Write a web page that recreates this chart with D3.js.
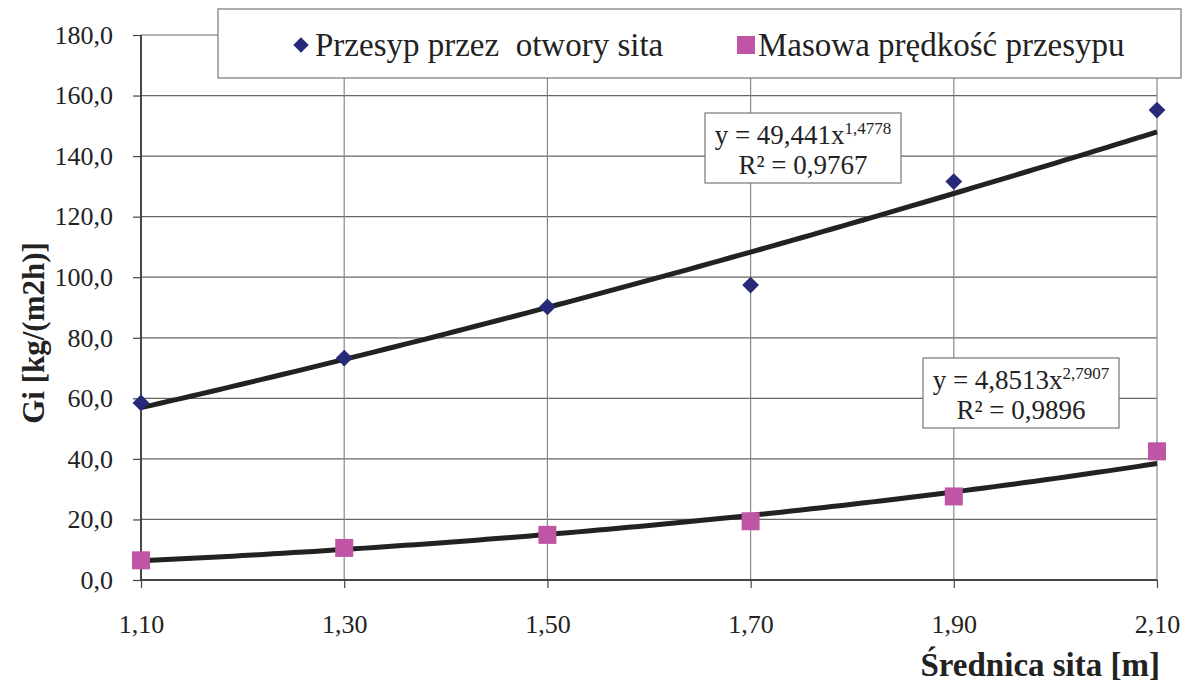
<!DOCTYPE html>
<html>
<head>
<meta charset="utf-8">
<script src="https://cdn.jsdelivr.net/npm/d3@7"></script>
<style>
  body { margin: 0; background: #fff; }
</style>
</head>
<body>
<svg id="chart" width="1191" height="684"></svg>
<script>
// data
var diameters = [1.10, 1.30, 1.50, 1.70, 1.90, 2.10];
var przesyp = [58.5, 73.3, 90.2, 97.4, 131.6, 155.2];
var masowa = [6.5, 10.6, 14.9, 19.4, 27.6, 42.5];
var yTicks = [0, 20, 40, 60, 80, 100, 120, 140, 160, 180];
var seriesNames = ['Przesyp przez  otwory sita', 'Masowa prędkość przesypu'];
// power trendline coefficients as printed in the chart
var fitA = [49.441, 4.8513];
var fitB = [1.4778, 2.7907];
var fitEq = [['y = 49,441x', '1,4778', 'R² = 0,9767'], ['y = 4,8513x', '2,7907', 'R² = 0,9896']];

var svg = d3.select('#chart');
var fmt1 = function(d) { return d.toFixed(1).replace('.', ','); };
var fmt2 = function(d) { return d.toFixed(2).replace('.', ','); };

var x = d3.scaleLinear().domain([1.10, 2.10]).range([141, 1157]);
var y = d3.scaleLinear().domain([0, 180]).range([580, 35]);

// grid
svg.append('g').selectAll('line.hgrid').data(yTicks).enter().append('line')
  .attr('x1', 141).attr('x2', 1157)
  .attr('y1', function(d) { return y(d); }).attr('y2', function(d) { return y(d); })
  .attr('stroke', '#666').attr('stroke-width', 1.2);
svg.append('g').selectAll('line.vgrid').data(diameters).enter().append('line')
  .attr('x1', function(d) { return x(d); }).attr('x2', function(d) { return x(d); })
  .attr('y1', 35).attr('y2', 580)
  .attr('stroke', '#888').attr('stroke-width', 1.2);

// axes
var yAxis = svg.append('g').attr('transform', 'translate(141,0)')
  .call(d3.axisLeft(y).tickValues(yTicks).tickFormat(fmt1).tickSize(8).tickPadding(20));
var xAxis = svg.append('g').attr('transform', 'translate(0,580)')
  .call(d3.axisBottom(x).tickValues(diameters).tickFormat(fmt2).tickSize(8).tickPadding(27));
[yAxis, xAxis].forEach(function(a) {
  a.select('.domain').attr('stroke', '#222').attr('stroke-width', 1.5);
  a.selectAll('.tick line').attr('stroke', '#444').attr('stroke-width', 1.2);
  a.selectAll('.tick text').style('font-size', '26px');
});
xAxis.select('.domain').attr('d', 'M141,0H1157');
yAxis.select('.domain').attr('d', 'M0,35V580');

// axis titles
svg.append('text').attr('x', 1160).attr('y', 676).attr('text-anchor', 'end')
  .style('font-size', '33px').style('font-weight', 'bold').text('Średnica sita [m]');
svg.append('text').attr('transform', 'translate(44,333) rotate(-90)').attr('text-anchor', 'middle')
  .style('font-size', '31px').style('font-weight', 'bold').text('Gi [kg/(m2h)]');

// trendlines
var samples = d3.range(0, 101).map(function(i) { return 1.10 + i * 0.01; });
[0, 1].forEach(function(k) {
  var line = d3.line()
    .x(function(d) { return x(d); })
    .y(function(d) { return y(fitA[k] * Math.pow(d, fitB[k])); });
  svg.append('path').datum(samples).attr('d', line)
    .attr('fill', 'none').attr('stroke', '#222').attr('stroke-width', 5);
});

// markers
var diamond = d3.symbol().type(d3.symbolDiamond2).size(180);
svg.append('g').selectAll('path.dia').data(przesyp).enter().append('path')
  .attr('class', 'dia')
  .attr('d', diamond)
  .attr('transform', function(d, i) { return 'translate(' + x(diameters[i]) + ',' + y(d) + ')'; })
  .attr('fill', '#262a78');
svg.append('g').selectAll('rect.sq').data(masowa).enter().append('rect')
  .attr('class', 'sq')
  .attr('x', function(d, i) { return x(diameters[i]) - 9; })
  .attr('y', function(d) { return y(d) - 9; })
  .attr('width', 18).attr('height', 18)
  .attr('fill', '#c055a5');

// equation labels
var eqBoxes = [[705, 113], [923, 358]];
eqBoxes.forEach(function(b, k) {
  var g = svg.append('g').attr('transform', 'translate(' + b[0] + ',' + b[1] + ')');
  g.append('rect').attr('width', 196).attr('height', 70)
    .attr('fill', '#fff').attr('stroke', '#777').attr('stroke-width', 1.2);
  var t = g.append('text').attr('x', 98).attr('y', 31).attr('text-anchor', 'middle').style('font-size', '27px');
  t.append('tspan').text(fitEq[k][0]);
  t.append('tspan').attr('dy', -10).style('font-size', '17px').text(fitEq[k][1]);
  g.append('text').attr('x', 98).attr('y', 61).attr('text-anchor', 'middle').style('font-size', '27px').text(fitEq[k][2]);
});

// legend
var leg = svg.append('g');
leg.append('rect').attr('x', 218).attr('y', 9).attr('width', 963).attr('height', 69)
  .attr('fill', '#fff').attr('stroke', '#777').attr('stroke-width', 1.2);
leg.append('path').attr('d', d3.symbol().type(d3.symbolDiamond2).size(150))
  .attr('transform', 'translate(301,45)').attr('fill', '#262a78');
leg.append('text').attr('x', 315).attr('y', 56).style('font-size', '33px').text(seriesNames[0]);
leg.append('rect').attr('x', 737).attr('y', 36).attr('width', 18).attr('height', 18).attr('fill', '#c055a5');
leg.append('text').attr('x', 758).attr('y', 56).style('font-size', '33px').text(seriesNames[1]);

// Times-like font everywhere
svg.selectAll('text')
  .style('font-family', "'Liberation Serif'")
  .style('white-space', 'pre')
  .attr('fill', '#222');
</script>
</body>
</html>
